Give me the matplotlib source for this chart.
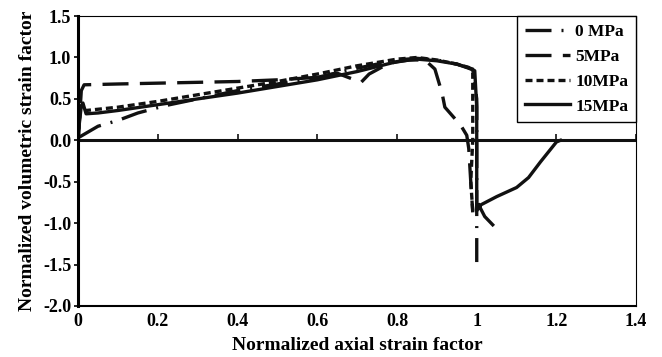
import numpy as np
import matplotlib
matplotlib.use('Agg')
import matplotlib.pyplot as plt

# curves (normalized axial strain, normalized volumetric strain)
x_0mpa = [0, 0.05, 0.1, 0.15, 0.22, 0.3, 0.4, 0.5, 0.6, 0.7, 0.8, 0.85, 0.9, 0.95, 0.99, 1.0, 1.0, 1.0]
y_0mpa = [0.03, 0.17, 0.24, 0.33, 0.42, 0.5, 0.6, 0.68, 0.76, 0.87, 0.97, 0.99, 0.97, 0.92, 0.86, 0.5, -0.8, -1.47]

x_5mpa = [0, 0.008, 0.015, 0.1, 0.2, 0.3, 0.4, 0.5, 0.6, 0.65, 0.71, 0.73, 0.78, 0.83, 0.87,
          0.895, 0.913, 0.92, 0.96, 0.975, 0.98, 0.985, 0.99]
y_5mpa = [0, 0.6, 0.67, 0.68, 0.69, 0.70, 0.71, 0.73, 0.76, 0.81, 0.70, 0.80, 0.93, 0.97, 0.97,
          0.86, 0.57, 0.40, 0.18, 0.06, -0.1, -0.5, -0.87]

x_10mpa = [0, 0.005, 0.02, 0.1, 0.2, 0.3, 0.4, 0.5, 0.6, 0.7, 0.8, 0.85, 0.9, 0.95, 0.98, 0.99, 0.99, 0.985, 0.99]
y_10mpa = [0, 0.35, 0.36, 0.4, 0.47, 0.55, 0.63, 0.71, 0.8, 0.9, 0.98, 1.0, 0.97, 0.92, 0.88, 0.82, 0.0, -0.5, -0.85]

x_15mpa = [0, 0.003, 0.008, 0.012, 0.02, 0.05, 0.1, 0.2, 0.3, 0.4, 0.5, 0.6, 0.7, 0.8, 0.85, 0.9, 0.95,
           0.98, 0.995, 1.0, 1.0, 1.0, 1.01, 1.05, 1.1, 1.13, 1.16, 1.2, 1.21,
           np.nan, 1.005, 1.02, 1.04]
y_15mpa = [0, 0.2, 0.42, 0.45, 0.32, 0.33, 0.36, 0.43, 0.5, 0.57, 0.65, 0.73, 0.83, 0.95, 0.98, 0.96, 0.92,
           0.87, 0.84, 0.4, -0.5, -0.85, -0.78, -0.68, -0.57, -0.45, -0.26, -0.02, 0,
           np.nan, -0.78, -0.92, -1.02]

labels = ['0 MPa', '5MPa', '10MPa', '15MPa']
x_ticks = [0, 0.2, 0.4, 0.6, 0.8, 1.0, 1.2, 1.4]
x_ticklabels = ['0', '0.2', '0.4', '0.6', '0.8', '1', '1.2', '1.4']
y_ticks = [1.5, 1.0, 0.5, 0.0, -0.5, -1.0, -1.5, -2.0]
y_ticklabels = ['1.5', '1.0', '0.5', '0.0', '-0.5', '-1.0', '-1.5', '-2.0']

plt.rcParams['font.family'] = ['Liberation Serif', 'DejaVu Serif']
plt.rcParams['font.weight'] = 'bold'

fig = plt.figure(figsize=(6.62, 3.57), dpi=100)
ax = fig.add_axes([0.118, 0.143, 0.843, 0.812])

col = '#111111'
lw = 2.4
ax.plot(x_0mpa, y_0mpa, color=col, lw=lw, dashes=(7.8, 3, 0.6, 3), label=labels[0])
ax.plot(x_5mpa, y_5mpa, color=col, lw=lw, dashes=(7.8, 3.4), label=labels[1])
ax.plot(x_10mpa, y_10mpa, color=col, lw=lw, dashes=(2.1, 1.2), label=labels[2])
ax.plot(x_15mpa, y_15mpa, color=col, lw=lw, label=labels[3])

ax.axhline(0, color=col, lw=2.2, zorder=1)
# small upward tick marks sitting on the zero line
ax.plot(x_ticks[1:], np.zeros(len(x_ticks) - 1), ls='none', marker=2, ms=4, mew=1.2, color=col)

ax.set_xlim(0, 1.4)
ax.set_ylim(-2.0, 1.5)
ax.set_xticks(x_ticks)
ax.set_xticklabels(x_ticklabels)
ax.set_yticks(y_ticks)
ax.set_yticklabels(y_ticklabels)
ax.tick_params(axis='x', length=0, pad=5, labelsize=13)
ax.tick_params(axis='y', length=3, width=1.2, direction='out', pad=2, labelsize=13)

ax.spines['left'].set_linewidth(2.2)
ax.spines['bottom'].set_linewidth(1.5)
ax.spines['top'].set_linewidth(0.8)
ax.spines['right'].set_linewidth(0.8)

ax.set_xlabel('Normalized axial strain factor', fontsize=14, fontweight='bold', labelpad=5)
ax.set_ylabel('Normalized volumetric strain factor', fontsize=14, fontweight='bold', labelpad=5)

leg = ax.legend(loc='upper right', borderaxespad=0, fancybox=False, edgecolor='black',
                fontsize=12.5, handlelength=2.6, handletextpad=0.3, labelspacing=0.5,
                borderpad=0.45, framealpha=1)
leg.get_frame().set_linewidth(1.0)
for t in leg.get_texts():
    t.set_fontweight('bold')

fig.savefig('out.png', dpi=100)
